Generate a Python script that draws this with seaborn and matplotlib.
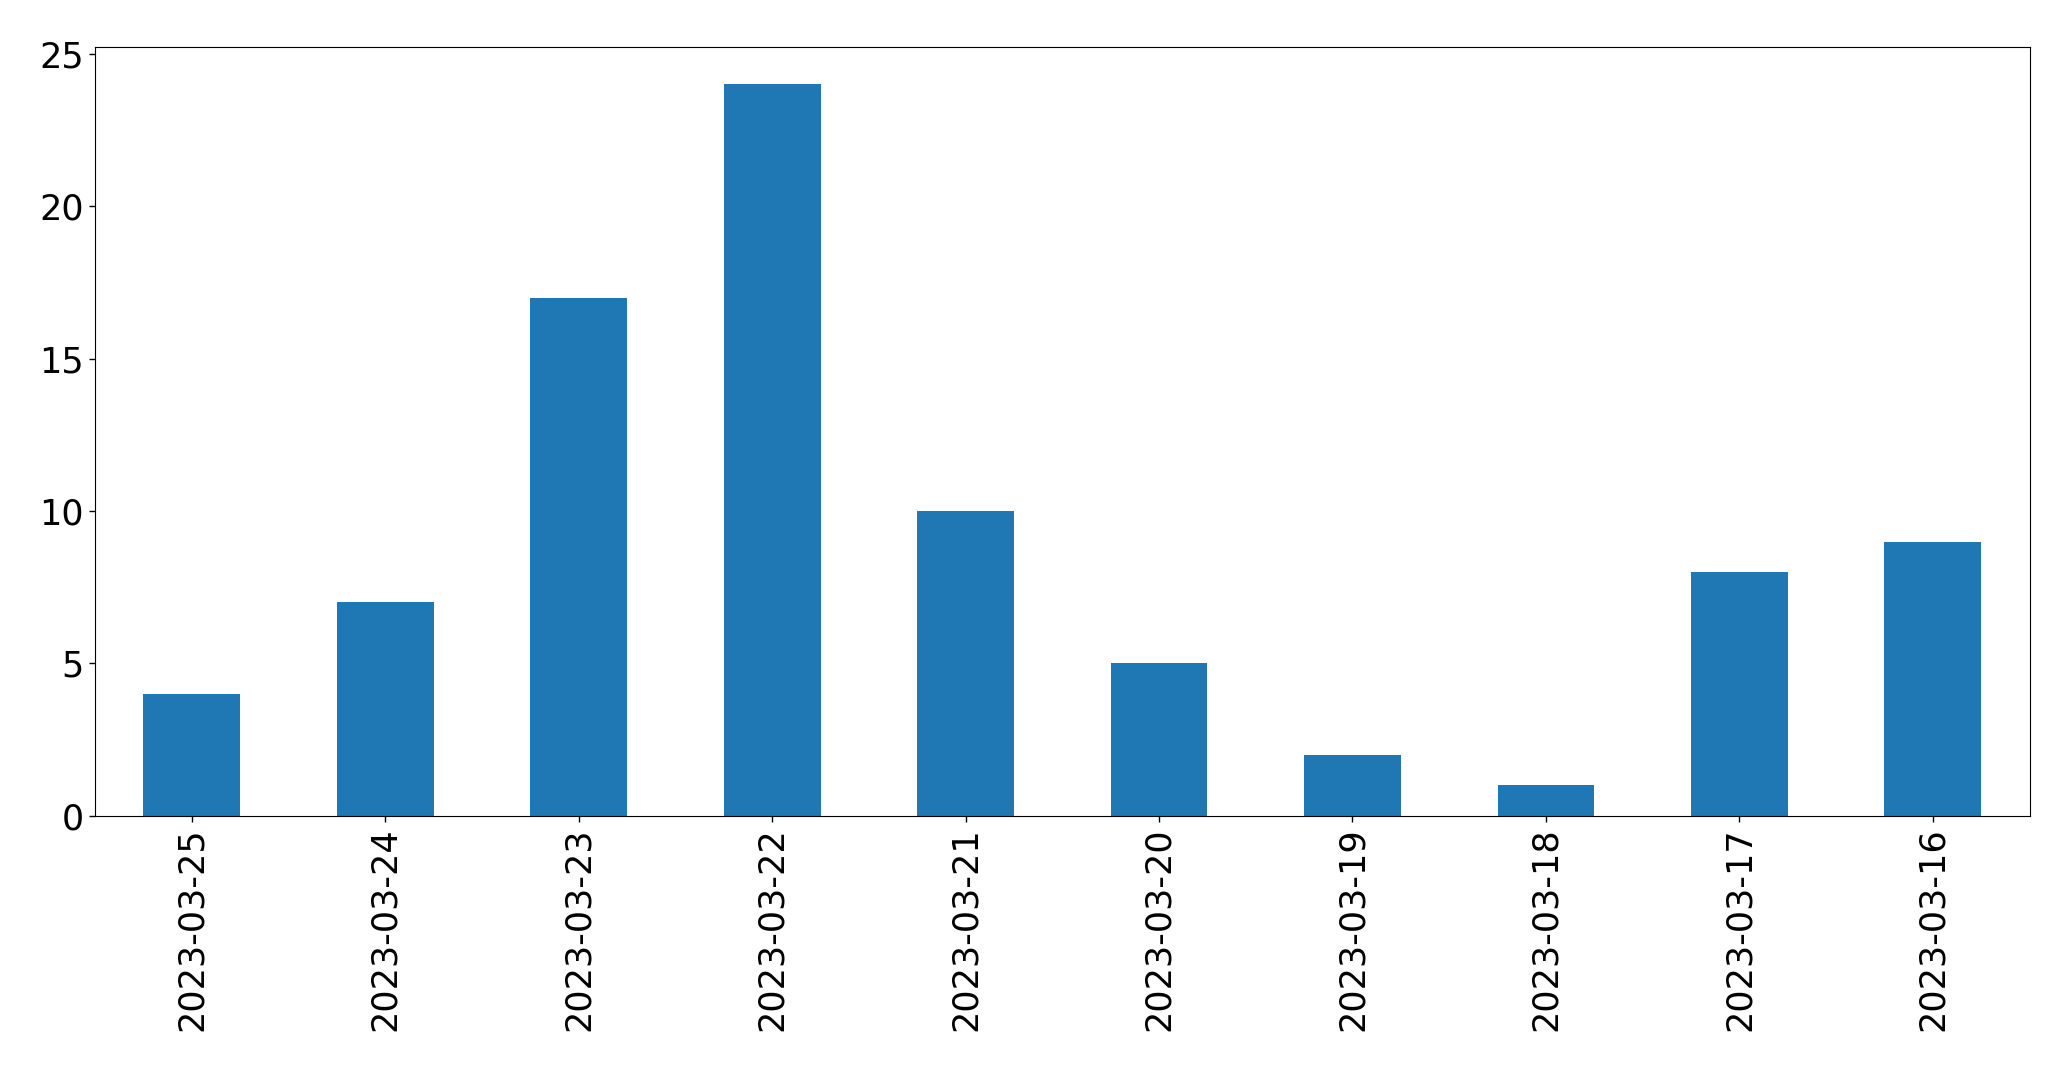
import matplotlib
matplotlib.use("Agg")
import matplotlib.pyplot as plt
import seaborn as sns
import pandas as pd

# datos del gráfico
fechas = ["2023-03-25", "2023-03-24", "2023-03-23", "2023-03-22", "2023-03-21",
          "2023-03-20", "2023-03-19", "2023-03-18", "2023-03-17", "2023-03-16"]
conteos = [4, 7, 17, 24, 10, 5, 2, 1, 8, 9]

df = pd.DataFrame({"fecha": fechas, "conteo": conteos})

fig, ax = plt.subplots(figsize=(20.71, 10.69), dpi=100)
sns.barplot(data=df, x="fecha", y="conteo", color="#1f77b4", saturation=1,
            width=0.5, ax=ax)

ax.set_xlim(-0.5, len(fechas) - 0.5)
ax.set_ylim(0, max(conteos) * 1.05)
ax.set_xlabel("")
ax.set_ylabel("")
ax.tick_params(axis="x", labelrotation=90, labelsize=25.2, length=4.5, width=1)
ax.tick_params(axis="y", labelsize=25.2, length=4.5, width=1)

fig.subplots_adjust(left=0.0459, right=0.980, top=0.9556, bottom=0.2367)
fig.savefig("out.png", dpi=100)
